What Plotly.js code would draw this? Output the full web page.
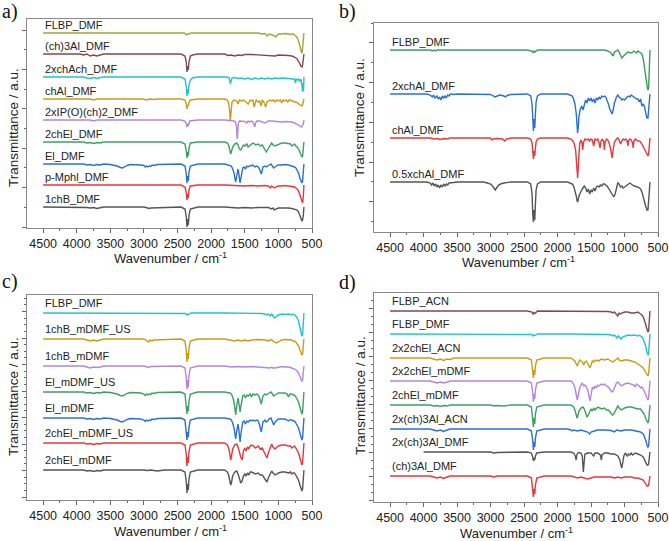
<!DOCTYPE html>
<html>
<head>
<meta charset="utf-8">
<script src="https://cdn.plot.ly/plotly-3.0.1.min.js"></script>
<style>
  html, body { margin: 0; padding: 0; background: #fff; }
  #chart { width: 669px; height: 541px; }
</style>
</head>
<body>
<div id="chart"></div>
<script>
// FTIR spectra, [wavenumber (cm-1), relative transmittance (a.u.)] pairs.
// Each spectrum is stacked on its own baseline within the panel.

// ---------- panel a ----------
const namesA = ["FLBP_DMF", "(ch)3Al_DMF", "2xchAch_DMF", "chAl_DMF", "2xIP(O)(ch)2_DMF",
                "2chEl_DMF", "El_DMF", "p-Mphl_DMF", "1chB_DMF"];
const offsetsA = [195, 174, 151, 129, 108, 86, 64, 43, 21];

const a_FLBP_DMF = [[4500,0],[3900,0],[3800,-0.5],[3700,0],[3600,0],[2400,0],[2365,-2],[2350,-1],[2330,-1],[2300,0],[1800,0],[1300,0],[1250,-1],[1200,-0.5],[1166,-3],[1140,-1],[1110,-1.5],[1080,-2],[1050,-3],[1037,-4],[1000,-1],[950,-1],[900,-0.5],[850,-1],[820,-1.5],[800,-1],[780,-1],[760,-2],[740,-3],[720,-5],[700,-8],[680,-13],[665,-17],[655,-20],[645,-19],[635,-12],[625,-2],[620,0]];
const a_ch3Al_DMF = [[4500,0],[3950,0],[3900,-1],[3850,0],[3800,-2],[3750,-1],[3700,-2],[3650,-1],[3600,0],[3500,0],[3000,0],[2900,-0.5],[2450,0],[2390,-2],[2370,-8],[2360,-18],[2350,-12],[2340,-16],[2330,-8],[2310,-2],[2280,-1],[2200,0],[1800,0],[1750,-1.5],[1700,-1],[1650,-2],[1600,-1],[1550,-1.5],[1500,-0.5],[1400,-0.5],[1200,-1],[1100,-1.5],[1050,-2],[1000,-1],[900,-1],[850,-1.5],[800,-2],[760,-3],[720,-5],[700,-7],[680,-10],[665,-12],[650,-13],[640,-11],[630,-5],[620,0]];
const a_2xchAch_DMF = [[4500,0],[3900,0],[3850,-1],[3800,-1.5],[3750,-0.5],[3700,-1.5],[3650,-0.5],[3600,0],[2450,0],[2390,-2],[2370,-10],[2360,-19],[2350,-12],[2340,-17],[2330,-8],[2310,-3],[2280,-1],[2200,0],[1760,0],[1730,-1],[1715,-7],[1705,-3],[1690,-1],[1650,-0.5],[1600,-1.5],[1560,-1],[1500,-2],[1450,-1],[1400,-2.5],[1350,-1],[1300,-2],[1250,-1],[1200,-2],[1150,-1],[1100,-2],[1050,-1],[1000,-1.5],[950,-1],[900,-1],[850,-1.5],[800,-2],[760,-2],[745,-6],[735,-2],[720,-3],[700,-2],[680,-4],[665,-2],[650,-8],[640,-15],[632,-6],[626,-14],[620,0]];
const a_chAl_DMF = [[4500,0],[3900,0],[3850,-0.5],[3800,0],[3750,-1],[3700,0],[3600,0],[3000,0],[2980,-1],[2950,-0.5],[2900,0],[2850,-0.5],[2800,0],[2450,0],[2390,-1],[2370,-5],[2360,-10],[2350,-6],[2340,-7],[2330,-3],[2310,-1],[2200,0],[1800,0],[1760,-1],[1740,-4],[1725,-12],[1715,-22],[1705,-14],[1690,-3],[1660,-1],[1620,-2],[1600,-5],[1580,-1],[1550,-2],[1520,-1],[1480,-3],[1450,-5],[1420,-1],[1400,-2],[1380,-1],[1360,-8],[1330,-1],[1300,-3],[1280,-2],[1260,-7],[1240,-1],[1210,-4],[1190,-8],[1170,-3],[1150,-2],[1120,-1],[1100,-2],[1070,-1],[1050,-3],[1020,-1],[1000,-2],[970,-1],[950,-4],[930,-1],[900,-2],[880,-1],[860,-3],[840,-1],[820,-1],[800,-2],[780,-2],[760,-3],[740,-3],[720,-4],[700,-5],[680,-6],[665,-7],[650,-7],[640,-6],[630,-3],[620,0]];
const a_2xIPOch2_DMF = [[4500,0],[3800,0],[3750,-1],[3700,0],[2450,0],[2390,-1],[2370,-4],[2360,-7],[2350,-4],[2340,-6],[2320,-1],[2200,0],[1800,0],[1700,-0.5],[1660,-1],[1640,-2],[1625,-6],[1612,-19],[1605,-14],[1595,-3],[1580,-1],[1550,-1],[1500,-1.5],[1470,-3],[1450,-1],[1430,-2],[1400,-1],[1380,-2],[1360,-6],[1350,-7],[1340,-3],[1320,-1],[1280,-1],[1250,-1.5],[1200,-3],[1180,-2],[1150,-1],[1100,-1],[1050,-1.5],[1000,-2],[950,-2],[900,-1.5],[850,-1.5],[800,-2],[760,-3],[720,-4],[700,-5],[680,-6],[660,-7],[645,-6],[630,-4],[620,0]];
const a_2chEl_DMF = [[4500,0],[3900,0],[3850,-1],[3800,-0.5],[3750,-1.5],[3700,-0.5],[3650,-1],[3600,0],[2450,0],[2390,-2],[2370,-9],[2360,-16],[2350,-10],[2340,-14],[2330,-6],[2310,-1],[2200,0],[1800,0],[1760,-1],[1740,-3],[1720,-9],[1710,-12],[1700,-10],[1680,-5],[1650,-2],[1620,-1],[1600,-3],[1580,-7],[1560,-8],[1540,-5],[1520,-3],[1500,-4],[1470,-2],[1450,-5],[1420,-3],[1400,-2],[1370,-1],[1340,-3],[1300,-2],[1270,-4],[1240,-3],[1200,-7],[1180,-10],[1170,-9],[1150,-6],[1120,-3],[1100,-1],[1080,-3],[1050,-4],[1020,-3],[1000,-2],[950,-1],[900,-1],[850,-2],[820,-2],[800,-4],[780,-3],[760,-2],[740,-4],[720,-5],[700,-7],[680,-10],[665,-13],[650,-15],[640,-14],[630,-8],[620,0]];
const a_El_DMF = [[4500,0],[3900,0],[3850,-1],[3800,-0.5],[3750,-1.5],[3700,-0.5],[3650,-1],[3600,0],[3500,-0.5],[3450,-1],[3400,-2],[3350,-3.5],[3320,-4],[3290,-3],[3250,-1.5],[3200,-0.5],[3100,-0.5],[3050,-1],[3000,-1.5],[2980,-3],[2960,-2],[2940,-3],[2920,-2],[2900,-2.5],[2880,-1],[2850,-1.5],[2800,-0.5],[2450,0],[2390,-2],[2370,-10],[2360,-19],[2350,-12],[2340,-17],[2330,-8],[2310,-2],[2200,0],[1800,0],[1720,-1],[1700,-2],[1680,-5],[1660,-9],[1645,-15],[1635,-18],[1625,-14],[1610,-6],[1600,-5],[1590,-9],[1580,-14],[1570,-19],[1560,-15],[1545,-7],[1530,-4],[1510,-3],[1490,-5],[1470,-2],[1450,-3],[1420,-1.5],[1400,-2],[1380,-1],[1350,-3],[1320,-2],[1300,-3],[1280,-5],[1265,-9],[1255,-10],[1245,-8],[1230,-3],[1200,-2],[1180,-3],[1160,-2],[1140,-1],[1110,0],[1090,-2],[1070,-4],[1050,-3],[1020,-2],[1000,-1],[950,-1],[900,-0.5],[850,-1],[800,-2],[780,-2],[760,-3],[740,-4],[720,-6],[700,-9],[680,-14],[665,-18],[650,-19],[640,-17],[630,-8],[620,0]];
const a_pMphl_DMF = [[4500,0],[3900,0],[3800,-0.5],[3700,-0.5],[3600,0],[2450,0],[2390,-2],[2370,-8],[2360,-15],[2350,-9],[2340,-13],[2330,-5],[2310,-1],[2200,0],[1800,0],[1700,-0.5],[1600,-0.5],[1500,-1],[1400,-0.5],[1300,-1],[1200,-0.5],[1150,-1],[1120,-3],[1100,-1],[1080,-2],[1060,-3],[1040,-2],[1000,-1],[950,-1],[900,-0.5],[850,-1],[800,-1.5],[760,-2],[720,-4],[700,-6],[680,-10],[665,-14],[650,-17],[640,-18],[630,-12],[620,0]];
const a_1chB_DMF = [[4500,0],[3900,0],[3850,-0.5],[3800,-1],[3750,-0.5],[3700,-1.5],[3650,-1],[3600,0],[3000,0],[2950,-1],[2920,-1.5],[2900,-1],[2450,0],[2390,-2],[2370,-10],[2360,-20],[2350,-12],[2340,-18],[2330,-8],[2310,-2],[2200,0],[1800,0],[1700,-0.5],[1600,-1],[1500,-0.5],[1400,-1],[1300,-0.5],[1200,-1],[1150,-0.5],[1100,-2],[1080,-1],[1060,-3],[1040,-2],[1000,-1],[950,-1],[900,-0.5],[850,-1],[800,-1.5],[760,-2],[720,-3],[700,-5],[680,-8],[665,-11],[650,-14],[640,-13],[630,-9],[620,0]];
const spectraA = [a_FLBP_DMF, a_ch3Al_DMF, a_2xchAch_DMF, a_chAl_DMF, a_2xIPOch2_DMF, a_2chEl_DMF, a_El_DMF, a_pMphl_DMF, a_1chB_DMF];
const colorsA = ["#a3a53c", "#7e4a4e", "#22c5c8", "#c89d16", "#b386de", "#3e9f66", "#2b6fd6", "#e8363c", "#555555"];

// ---------- panel b ----------
const namesB = ["FLBP_DMF", "2xchAl_DMF", "chAl_DMF", "0.5xchAl_DMF"];
const offsetsB = [182, 138, 94, 50];

const b_FLBP_DMF = [[4500,0],[3900,0],[3870,-1],[3850,0],[3820,-1],[3800,0],[3700,0],[2450,0],[2380,-1],[2365,-3],[2350,-1],[2335,-2],[2300,0],[1800,0],[1300,0],[1250,-1],[1200,-3],[1170,-6],[1150,-2],[1120,-1],[1100,0],[1080,-2],[1060,-6],[1040,-8],[1000,-5],[950,-2],[900,-3],[880,-2],[860,-1],[840,-2],[820,-3],[800,-1],[780,-2],[760,-3],[740,-4],[720,-9],[700,-20],[690,-25],[680,-30],[670,-34],[660,-37],[650,-40],[640,-38],[630,-20],[620,0]];
const b_2xchAl_DMF = [[4500,0],[3950,0],[3900,-1],[3870,-3],[3850,-1],[3830,-4],[3800,-2],[3780,-5],[3760,-3],[3740,-6],[3720,-2],[3700,-4],[3680,-2],[3660,-4],[3640,-1],[3620,-2],[3600,0],[3550,-0.5],[3500,0],[3000,-0.5],[2960,-2],[2930,-3],[2900,-2],[2860,-1],[2800,-2],[2780,-3],[2750,-1.5],[2700,-0.5],[2450,0],[2400,-2],[2380,-10],[2370,-30],[2360,-37],[2350,-25],[2340,-34],[2330,-20],[2320,-8],[2300,-2],[2250,0],[1850,0],[1800,-1],[1780,-2],[1760,-5],[1740,-10],[1720,-20],[1710,-30],[1700,-39],[1690,-33],[1680,-22],[1660,-15],[1640,-12],[1620,-16],[1600,-11],[1580,-6],[1560,-9],[1540,-4],[1520,-7],[1500,-4],[1480,-8],[1460,-5],[1440,-9],[1420,-4],[1400,-6],[1380,-3],[1360,-5],[1340,-2],[1320,-3],[1300,-2],[1280,-3],[1260,-6],[1240,-10],[1220,-15],[1200,-19],[1185,-20],[1170,-16],[1150,-9],[1120,-3],[1100,-1],[1080,-3],[1060,-4],[1040,-6],[1020,-5],[1000,-6],[980,-4],[960,-3],[940,-2],[920,-3],[900,-1],[880,-2],[860,-3],[840,-4],[820,-5],[800,-5],[780,-8],[760,-5],[740,-12],[720,-10],[700,-13],[680,-20],[665,-24],[650,-24],[640,-18],[630,-8],[620,0]];
const b_chAl_DMF = [[4500,0],[3900,0],[3850,-1],[3800,-0.5],[3750,-1.5],[3700,-0.5],[3650,-1],[3600,0],[3000,0],[2980,-2],[2960,-1],[2900,-0.5],[2820,-1],[2790,-3],[2760,-1],[2700,0],[2450,0],[2400,-1],[2380,-5],[2370,-16],[2360,-21],[2350,-13],[2340,-18],[2330,-10],[2320,-4],[2300,-1],[2250,0],[1850,0],[1800,-1],[1770,-3],[1750,-6],[1730,-12],[1715,-22],[1705,-35],[1700,-40],[1695,-34],[1685,-18],[1670,-6],[1650,-2],[1635,-5],[1625,-12],[1610,-4],[1590,-1],[1560,-2],[1540,-1],[1520,-3],[1500,-1],[1480,-2],[1460,-8],[1450,-3],[1440,-1],[1420,-2],[1400,-1],[1380,-5],[1365,-10],[1350,-3],[1330,-1],[1310,-4],[1300,-12],[1290,-4],[1270,-1],[1250,-2],[1230,-5],[1210,-10],[1195,-18],[1185,-20],[1170,-12],[1150,-4],[1120,-1],[1100,0],[1080,-2],[1060,-6],[1040,-3],[1020,-1],[1000,-2],[980,-1],[960,-3],[950,-8],[940,-3],[920,-1],[900,-2],[880,-5],[870,-10],[860,-3],[840,-1],[820,-2],[800,-3],[780,-3],[760,-4],[740,-6],[720,-9],[700,-12],[680,-15],[665,-17],[650,-18],[640,-16],[630,-8],[620,0]];
const b_05xchAl_DMF = [[4500,0],[3950,0],[3900,-1],[3880,-3],[3860,-1],[3840,-4],[3820,-2],[3800,-5],[3780,-3],[3760,-6],[3740,-3],[3720,-5],[3700,-2],[3680,-4],[3660,-2],[3640,-3],[3620,-1],[3600,-1],[3550,-0.5],[3500,0],[3100,0],[3050,-1],[3000,-2],[2970,-4],[2950,-6],[2930,-8],[2910,-6],[2880,-3],[2850,-2],[2800,-1],[2700,0],[2450,0],[2400,-2],[2380,-12],[2370,-32],[2360,-40],[2350,-28],[2340,-38],[2330,-22],[2320,-8],[2300,-2],[2250,0],[1850,0],[1800,-1],[1780,-2],[1760,-4],[1740,-8],[1720,-14],[1705,-20],[1695,-19],[1680,-14],[1660,-10],[1640,-8],[1620,-6],[1600,-4],[1580,-6],[1560,-10],[1540,-7],[1520,-12],[1500,-8],[1480,-10],[1460,-6],[1440,-9],[1420,-5],[1400,-4],[1380,-5],[1360,-3],[1340,-4],[1320,-2],[1300,-2],[1280,-3],[1260,-4],[1240,-6],[1220,-8],[1200,-11],[1180,-13],[1160,-15],[1140,-12],[1120,-6],[1100,-1],[1080,-2],[1060,-5],[1040,-4],[1020,-6],[1000,-5],[980,-4],[960,-3],[940,-2],[920,-1],[900,-2],[880,-3],[860,-4],[840,-4],[820,-5],[800,-5],[780,-6],[760,-7],[740,-10],[720,-14],[700,-20],[680,-25],[665,-28],[650,-28],[640,-22],[630,-10],[620,0]];
const spectraB = [b_FLBP_DMF, b_2xchAl_DMF, b_chAl_DMF, b_05xchAl_DMF];
const colorsB = ["#3a9e5f", "#2b6fd6", "#e8363c", "#555555"];

// ---------- panel c ----------
const namesC = ["FLBP_DMF", "1chB_mDMF_US", "1chB_mDMF", "El_mDMF_US", "El_mDMF", "2chEl_mDMF_US", "2chEl_mDMF"];
const offsetsC = [187, 161, 134, 108, 82, 57, 30];

const c_FLBP_DMF = [[4500,0],[3900,0],[3850,-0.5],[3800,0],[2450,0],[2380,-0.5],[2365,-2],[2350,-1],[2335,-1.5],[2300,0],[1800,0],[1300,0],[1250,-0.5],[1200,-1],[1170,-2],[1150,-1],[1120,-3],[1100,-1],[1080,-3],[1060,-5],[1040,-4],[1000,-2],[950,-1],[900,-1.5],[850,-1],[800,-2],[780,-1],[760,-2],[740,-3],[720,-5],[700,-8],[685,-13],[670,-18],[660,-21],[650,-23],[640,-22],[630,-10],[620,0]];
const c_1chB_mDMF_US = [[4500,0],[3900,0],[3850,-1],[3800,-2],[3750,-1],[3700,-2],[3650,-1],[3600,0],[3000,0],[2960,-2],[2930,-3],[2910,-1],[2880,-2],[2850,-1],[2450,0],[2390,-2],[2370,-12],[2360,-23],[2350,-14],[2340,-20],[2330,-9],[2310,-2],[2200,0],[1800,0],[1700,-1],[1650,-2],[1600,-1],[1550,-2],[1500,-1],[1450,-2],[1400,-1],[1300,-0.5],[1200,-1],[1150,-2],[1120,-1],[1100,-0.5],[1080,-2],[1050,-3],[1030,-4],[1000,-3],[950,-1],[900,-0.5],[850,-1],[800,-1],[780,-2],[760,-2],[740,-3],[720,-5],[700,-7],[680,-11],[665,-14],[650,-16],[640,-15],[630,-8],[620,0]];
const c_1chB_mDMF = [[4500,0],[3900,0],[3850,-1],[3800,-2],[3750,-1],[3700,-1.5],[3650,-1],[3600,0],[3000,0],[2950,-1],[2930,-1.5],[2900,-0.5],[2450,0],[2390,-2],[2370,-12],[2360,-23],[2350,-14],[2340,-21],[2330,-9],[2310,-2],[2200,0],[1800,0],[1700,-1],[1600,-0.5],[1500,-1],[1400,-0.5],[1300,-1],[1200,-1],[1120,-2],[1100,-1],[1080,-2],[1050,-2],[1000,-1],[950,-0.5],[900,-1],[850,-1],[800,-2],[760,-3],[720,-5],[700,-7],[680,-10],[665,-13],[650,-15],[640,-14],[630,-8],[620,0]];
const c_El_mDMF_US = [[4500,0],[3900,0],[3850,-1],[3800,-0.5],[3750,-1.5],[3700,-0.5],[3650,-1],[3600,0],[3500,-0.5],[3450,-1],[3400,-2],[3350,-3.5],[3320,-4],[3290,-3],[3250,-1.5],[3200,-0.5],[3100,-0.5],[3050,-1],[3000,-2],[2980,-3.5],[2960,-2],[2940,-3],[2920,-2],[2900,-2.5],[2880,-1],[2850,-1.5],[2800,-0.5],[2450,0],[2390,-2],[2370,-12],[2360,-22],[2350,-14],[2340,-19],[2330,-9],[2310,-2],[2200,0],[1800,0],[1720,-1],[1700,-2],[1680,-5],[1660,-10],[1645,-18],[1635,-23],[1625,-16],[1610,-7],[1600,-6],[1590,-10],[1580,-16],[1570,-20],[1560,-15],[1545,-7],[1530,-4],[1510,-3],[1490,-6],[1470,-3],[1450,-4],[1420,-2],[1400,-5],[1380,-2],[1350,-3],[1320,-2],[1300,-3],[1280,-6],[1265,-10],[1255,-12],[1245,-9],[1230,-4],[1200,-2],[1180,-3],[1160,-2],[1140,-1],[1110,0],[1090,-2],[1070,-4],[1050,-3],[1020,-2],[1000,-1],[950,-1],[900,-1],[870,-2],[850,-5],[830,-2],[800,-2],[780,-3],[760,-3],[740,-5],[720,-7],[700,-10],[680,-15],[665,-20],[650,-22],[640,-20],[630,-9],[620,0]];
const c_El_mDMF = [[4500,0],[3900,0],[3850,-1],[3800,-0.5],[3750,-1.5],[3700,-0.5],[3650,-1],[3600,0],[3500,-0.5],[3450,-1],[3400,-2],[3350,-3.5],[3320,-4],[3290,-3],[3250,-1.5],[3200,-0.5],[3100,-0.5],[3050,-1],[3000,-2],[2980,-3.5],[2960,-2],[2940,-3],[2920,-2],[2900,-2.5],[2880,-1],[2850,-1.5],[2800,-0.5],[2450,0],[2390,-2],[2370,-12],[2360,-22],[2350,-14],[2340,-19],[2330,-9],[2310,-2],[2200,0],[1800,0],[1720,-1],[1700,-2],[1680,-5],[1660,-10],[1645,-17],[1635,-21],[1625,-15],[1610,-7],[1600,-6],[1590,-11],[1580,-18],[1570,-24],[1560,-17],[1545,-8],[1530,-4],[1510,-3],[1490,-6],[1470,-3],[1450,-4],[1420,-2],[1400,-3],[1380,-2],[1350,-3],[1320,-2],[1300,-3],[1280,-7],[1265,-12],[1255,-14],[1245,-10],[1230,-4],[1200,-2],[1180,-4],[1160,-3],[1140,-1],[1110,0],[1090,-4],[1070,-7],[1050,-4],[1020,-2],[1000,-1],[950,-1],[900,-1],[870,-2],[850,-3],[830,-2],[800,-2],[780,-3],[760,-3],[740,-5],[720,-7],[700,-10],[680,-15],[665,-20],[650,-22],[640,-20],[630,-9],[620,0]];
const c_2chEl_mDMF_US = [[4500,0],[3900,0],[3850,-1],[3800,-0.5],[3750,-1.5],[3700,-0.5],[3650,-1],[3600,0],[2450,0],[2390,-2],[2370,-12],[2360,-23],[2350,-14],[2340,-20],[2330,-9],[2310,-2],[2200,0],[1800,0],[1760,-2],[1740,-5],[1720,-12],[1710,-17],[1700,-14],[1680,-6],[1650,-2],[1620,-1],[1600,-4],[1580,-10],[1560,-14],[1540,-17],[1520,-8],[1500,-5],[1480,-8],[1460,-4],[1440,-6],[1420,-3],[1400,-2],[1370,-3],[1340,-5],[1300,-3],[1270,-6],[1240,-5],[1200,-10],[1180,-14],[1170,-15],[1150,-10],[1120,-4],[1100,-1],[1080,-4],[1050,-6],[1020,-4],[1000,-3],[950,-2],[900,-2],[850,-3],[820,-3],[800,-5],[780,-4],[760,-3],[740,-5],[720,-7],[700,-10],[680,-15],[665,-19],[650,-22],[640,-20],[630,-10],[620,0]];
const c_2chEl_mDMF = [[4500,0],[3900,0],[3850,-1],[3800,-0.5],[3750,-1.5],[3700,-0.5],[3650,-1],[3600,0],[3000,0],[2950,-0.5],[2900,0],[2800,-1],[2700,0],[2450,0],[2390,-2],[2370,-12],[2360,-23],[2350,-14],[2340,-20],[2330,-9],[2310,-2],[2200,0],[1800,0],[1760,-2],[1740,-5],[1720,-11],[1710,-15],[1700,-13],[1680,-6],[1650,-2],[1620,-1],[1600,-4],[1580,-9],[1560,-13],[1540,-11],[1520,-6],[1500,-4],[1480,-6],[1460,-3],[1440,-5],[1420,-2],[1400,-2],[1370,-3],[1340,-4],[1300,-3],[1270,-5],[1240,-5],[1200,-9],[1180,-12],[1170,-12],[1150,-8],[1120,-3],[1100,-1],[1080,-3],[1050,-5],[1020,-4],[1000,-3],[950,-2],[900,-2],[850,-3],[820,-2],[800,-4],[780,-3],[760,-3],[740,-5],[720,-7],[700,-10],[680,-15],[665,-19],[650,-21],[640,-19],[630,-10],[620,0]];
const spectraC = [c_FLBP_DMF, c_1chB_mDMF_US, c_1chB_mDMF, c_El_mDMF_US, c_El_mDMF, c_2chEl_mDMF_US, c_2chEl_mDMF];
const colorsC = ["#22c5c8", "#c89d16", "#b386de", "#3e9f66", "#2b6fd6", "#e8363c", "#555555"];

// ---------- panel d ----------
const namesD = ["FLBP_ACN", "FLBP_DMF", "2x2chEl_ACN", "2x2chEl_mDMF", "2chEl_mDMF", "2x(ch)3Al_ACN", "2x(ch)3Al_DMF", "(ch)3Al_DMF"];
const offsetsD = [191, 168, 144, 121, 97, 73, 50, 26];

const d_FLBP_ACN = [[4500,0],[3900,0],[3850,-0.5],[3800,0],[2450,0],[2380,-1],[2365,-3],[2350,-1.5],[2335,-2.5],[2300,0],[1800,0],[1300,0],[1250,-0.5],[1200,-1],[1170,-2],[1150,-1],[1120,-3],[1100,-5],[1080,-2],[1060,-3],[1040,-2],[1000,-1],[950,-1],[900,-2],[850,-2],[800,-1],[780,-2],[760,-3],[740,-4],[720,-6],[700,-9],[685,-13],[670,-17],[660,-20],[650,-21],[640,-20],[630,-9],[620,0]];
const d_FLBP_DMF = [[4500,0],[3900,0],[3850,-0.5],[3800,0],[2450,0],[2380,-0.5],[2365,-2],[2350,-1],[2335,-1.5],[2300,0],[1800,0],[1300,0],[1250,-0.5],[1200,-1],[1170,-2],[1150,-1],[1120,-3],[1110,-4],[1090,-2],[1070,-4],[1050,-5],[1030,-3],[1000,-2],[950,-1],[900,-1.5],[850,-1],[800,-2],[780,-1],[760,-2],[740,-3],[720,-5],[700,-8],[685,-12],[670,-17],[660,-20],[650,-21],[640,-20],[630,-9],[620,0]];
const d_2x2chEl_ACN = [[4500,0],[3900,0],[3850,-1],[3800,-2],[3750,-1],[3700,-2.5],[3650,-1],[3600,-1.5],[3550,0],[2450,0],[2390,-2],[2370,-11],[2360,-20],[2350,-12],[2340,-17],[2330,-8],[2310,-2],[2200,0],[1800,0],[1780,-1],[1760,-2],[1740,-3],[1720,-6],[1705,-8],[1690,-5],[1670,-2],[1650,-3],[1630,-4],[1610,-7],[1590,-4],[1570,-3],[1550,-5],[1530,-8],[1515,-10],[1500,-6],[1480,-3],[1460,-4],[1440,-2],[1420,-3],[1400,-2],[1380,-3],[1350,-1],[1300,-2],[1250,-1],[1200,-3],[1180,-4],[1150,-3],[1120,-1],[1100,0],[1080,-2],[1050,-3],[1000,-2],[950,-2],[900,-3],[850,-4],[800,-6],[760,-8],[720,-10],[700,-12],[680,-15],[665,-17],[650,-18],[640,-16],[630,-8],[620,0]];
const d_2x2chEl_mDMF = [[4500,0],[3900,0],[3850,-1],[3800,-2],[3750,-1],[3700,-2],[3650,-1],[3600,0],[2450,0],[2390,-2],[2370,-12],[2360,-21],[2350,-13],[2340,-18],[2330,-9],[2310,-2],[2200,0],[1800,0],[1780,-1],[1760,-3],[1740,-7],[1720,-14],[1705,-19],[1690,-14],[1670,-7],[1650,-4],[1630,-2],[1610,-5],[1590,-4],[1570,-6],[1550,-9],[1530,-15],[1515,-20],[1500,-14],[1480,-6],[1460,-8],[1440,-5],[1420,-7],[1400,-4],[1380,-5],[1350,-3],[1320,-4],[1300,-3],[1270,-5],[1240,-6],[1210,-9],[1185,-11],[1170,-10],[1150,-6],[1120,-2],[1100,-1],[1080,-3],[1050,-5],[1020,-4],[1000,-3],[950,-2],[900,-3],[860,-4],[840,-6],[820,-3],[800,-4],[780,-5],[760,-7],[740,-6],[720,-8],[700,-11],[680,-15],[665,-18],[650,-19],[640,-17],[630,-8],[620,0]];
const d_2chEl_mDMF = [[4500,0],[3900,0],[3850,-1],[3800,-0.5],[3750,-1.5],[3700,-0.5],[3650,-1],[3600,0],[3000,0],[2950,-1],[2900,-0.5],[2800,-1],[2700,0],[2450,0],[2390,-2],[2370,-12],[2360,-22],[2350,-13],[2340,-19],[2330,-9],[2310,-2],[2200,0],[1800,0],[1760,-2],[1740,-5],[1720,-10],[1710,-13],[1700,-12],[1680,-6],[1650,-3],[1620,-2],[1600,-4],[1580,-8],[1560,-12],[1540,-10],[1520,-6],[1500,-4],[1480,-6],[1460,-3],[1440,-5],[1420,-3],[1400,-2],[1370,-3],[1340,-4],[1300,-3],[1270,-5],[1240,-5],[1200,-8],[1180,-10],[1160,-9],[1140,-6],[1120,-3],[1100,-1],[1080,-3],[1050,-5],[1020,-4],[1000,-3],[950,-2],[900,-2],[850,-3],[800,-4],[760,-4],[740,-6],[720,-7],[700,-10],[680,-14],[665,-17],[650,-18],[640,-16],[630,-8],[620,0]];
const d_2xch3Al_ACN = [[4500,0],[3900,0],[3850,-1],[3800,-2],[3750,-1],[3700,-2.5],[3650,-1],[3600,0],[2450,0],[2390,-2],[2370,-12],[2360,-21],[2350,-13],[2340,-18],[2330,-9],[2310,-2],[2200,0],[1850,0],[1800,-1],[1780,-2],[1760,-1],[1700,-2],[1650,-1],[1600,-2],[1550,-3],[1520,-5],[1500,-3],[1450,-2],[1400,-1],[1300,-1],[1200,-1.5],[1150,-3],[1120,-1],[1050,-2],[1000,-1],[900,-1],[800,-2],[760,-3],[720,-5],[700,-8],[680,-12],[665,-16],[650,-18],[640,-17],[630,-8],[620,0]];
const d_2xch3Al_DMF = [[4000,0],[3900,0],[3800,-0.5],[3000,0],[2950,-1],[2900,-0.5],[2450,0],[2390,-1],[2370,-5],[2360,-9],[2350,-6],[2340,-8],[2330,-4],[2310,-1],[2200,0],[1800,0],[1760,-1],[1735,-4],[1722,-8],[1712,-3],[1690,-0.5],[1650,-1],[1630,-4],[1615,-20],[1605,-12],[1590,-2],[1550,-1],[1500,-1],[1460,-4],[1440,-1],[1400,-1],[1360,-3],[1345,-8],[1335,-3],[1300,-1],[1250,-1],[1200,-2],[1150,-2],[1100,-4],[1070,-8],[1050,-14],[1040,-16],[1030,-12],[1010,-4],[990,-1],[960,-4],[940,-2],[920,-3],[900,-1],[880,-3],[860,-2],[840,-1],[800,-2],[760,-3],[720,-5],[700,-8],[680,-11],[665,-13],[650,-13],[640,-12],[630,-6],[620,0]];
const d_ch3Al_DMF = [[4500,0],[3900,0],[3850,-1],[3800,-2],[3750,-1],[3700,-2.5],[3650,-1],[3600,0],[3000,0],[2950,-1],[2900,0],[2450,0],[2390,-2],[2370,-12],[2360,-21],[2350,-13],[2340,-18],[2330,-9],[2310,-2],[2200,0],[1800,0],[1750,-1],[1700,-2],[1650,-1],[1600,-2],[1550,-3],[1500,-2],[1450,-1],[1300,-1],[1200,-1],[1150,-2],[1100,-1],[1050,-2],[1000,-1],[900,-1],[850,-2],[800,-2],[760,-3],[720,-4],[700,-6],[680,-8],[665,-10],[650,-10],[640,-9],[630,-5],[620,0]];
const spectraD = [d_FLBP_ACN, d_FLBP_DMF, d_2x2chEl_ACN, d_2x2chEl_mDMF, d_2chEl_mDMF, d_2xch3Al_ACN, d_2xch3Al_DMF, d_ch3Al_DMF];
const colorsD = ["#7e4a4e", "#22c5c8", "#c89d16", "#b386de", "#3e9f66", "#2b6fd6", "#555555", "#e8363c"];

// ---------- drawing ----------
const W = 669, H = 541;
const panels = [
  { key: "", names: namesA, spectra: spectraA, offsets: offsetsA, colors: colorsA,
    box: [27, 19, 312, 228], yTick0: 1, yDtick: 39.4, yMinor: 19.7,
    letter: "a)", letterXY: [10, 11], yTitleXY: [13, 128], xTitleXY: [170, 258.5], labelDy: 8 },
  { key: "2", names: namesB, spectra: spectraB, offsets: offsetsB, colors: colorsB,
    box: [374, 23, 658, 232], yTick0: 30.3, yDtick: 39.7, yMinor: 19.85,
    letter: "b)", letterXY: [347, 12], yTitleXY: [360, 118], xTitleXY: [518, 261.5], labelDy: 8 },
  { key: "3", names: namesC, spectra: spectraC, offsets: offsetsC, colors: colorsC,
    box: [27, 295, 312, 500], yTick0: 3, yDtick: 26.5, yMinor: 6.625,
    letter: "c)", letterXY: [10, 281], yTitleXY: [13, 397], xTitleXY: [170, 530.5], labelDy: 10 },
  { key: "4", names: namesD, spectra: spectraD, offsets: offsetsD, colors: colorsD,
    box: [374, 293, 658, 502], yTick0: 2, yDtick: 24, yMinor: 8,
    letter: "d)", letterXY: [347, 282], yTitleXY: [360, 396], xTitleXY: [516, 532.5], labelDy: 10 }
];

const traces = [];
const annotations = [];
const layout = {
  width: W, height: H,
  margin: { l: 0, r: 0, t: 0, b: 0 },
  paper_bgcolor: "#ffffff", plot_bgcolor: "#ffffff",
  showlegend: false,
  font: { family: "Arial, 'Liberation Sans', sans-serif", color: "#222" }
};

const axisFont = { family: "Arial, 'Liberation Sans', sans-serif", size: 12.5, color: "#222" };

panels.forEach(p => {
  const [x0, y0, x1, y1] = p.box;
  const xa = "xaxis" + p.key, ya = "yaxis" + p.key;
  const xr = "x" + p.key, yr = "y" + p.key;
  const yHeight = y1 - y0;

  layout[xa] = {
    domain: [x0 / W, x1 / W], anchor: yr,
    range: [4740, 500], tick0: 500, dtick: 500,
    ticks: "outside", ticklen: 4, tickwidth: 1, tickcolor: "#666",
    minor: { dtick: 250, tick0: 500, ticks: "outside", ticklen: 2, tickcolor: "#666" },
    showline: true, linecolor: "#888", linewidth: 1, mirror: true,
    showgrid: false, zeroline: false, tickfont: axisFont, fixedrange: true
  };
  layout[ya] = {
    domain: [1 - y1 / H, 1 - y0 / H], anchor: xr,
    range: [0, yHeight], showticklabels: false,
    tick0: p.yTick0, dtick: p.yDtick,
    ticks: "outside", ticklen: 4, tickwidth: 1, tickcolor: "#666",
    minor: { dtick: p.yMinor, tick0: p.yTick0, ticks: "outside", ticklen: 2, tickcolor: "#666" },
    showline: true, linecolor: "#888", linewidth: 1, mirror: true,
    showgrid: false, zeroline: false, fixedrange: true
  };

  p.spectra.forEach((s, i) => {
    traces.push({
      type: "scatter", mode: "lines",
      x: s.map(pt => pt[0]),
      y: s.map(pt => pt[1] + p.offsets[i]),
      xaxis: xr, yaxis: yr,
      line: { color: p.colors[i], width: 1.4 },
      hoverinfo: "skip", name: p.names[i]
    });
    annotations.push({
      xref: xr, yref: yr, x: 4500, y: p.offsets[i] + p.labelDy,
      text: p.names[i], showarrow: false, xanchor: "left", yanchor: "middle",
      font: { family: "Arial, 'Liberation Sans', sans-serif", size: 11, color: "#222" }
    });
  });

  annotations.push({
    xref: "paper", yref: "paper", x: p.letterXY[0] / W, y: 1 - p.letterXY[1] / H,
    text: p.letter, showarrow: false, xanchor: "center", yanchor: "middle",
    font: { family: "'Liberation Serif', 'Times New Roman', serif", size: 20, color: "#111" }
  });
  annotations.push({
    xref: "paper", yref: "paper", x: p.yTitleXY[0] / W, y: 1 - p.yTitleXY[1] / H,
    text: "Transmittance / a.u.", textangle: -90, showarrow: false,
    xanchor: "center", yanchor: "middle",
    font: { family: "Arial, 'Liberation Sans', sans-serif", size: 13.5, color: "#222" }
  });
  annotations.push({
    xref: "paper", yref: "paper", x: p.xTitleXY[0] / W, y: 1 - p.xTitleXY[1] / H,
    text: "Wavenumber / cm<sup>-1</sup>", showarrow: false,
    xanchor: "center", yanchor: "middle",
    font: { family: "Arial, 'Liberation Sans', sans-serif", size: 13, color: "#222" }
  });
});

layout.annotations = annotations;

Plotly.newPlot("chart", traces, layout, { displayModeBar: false, staticPlot: true });
</script>
</body>
</html>
